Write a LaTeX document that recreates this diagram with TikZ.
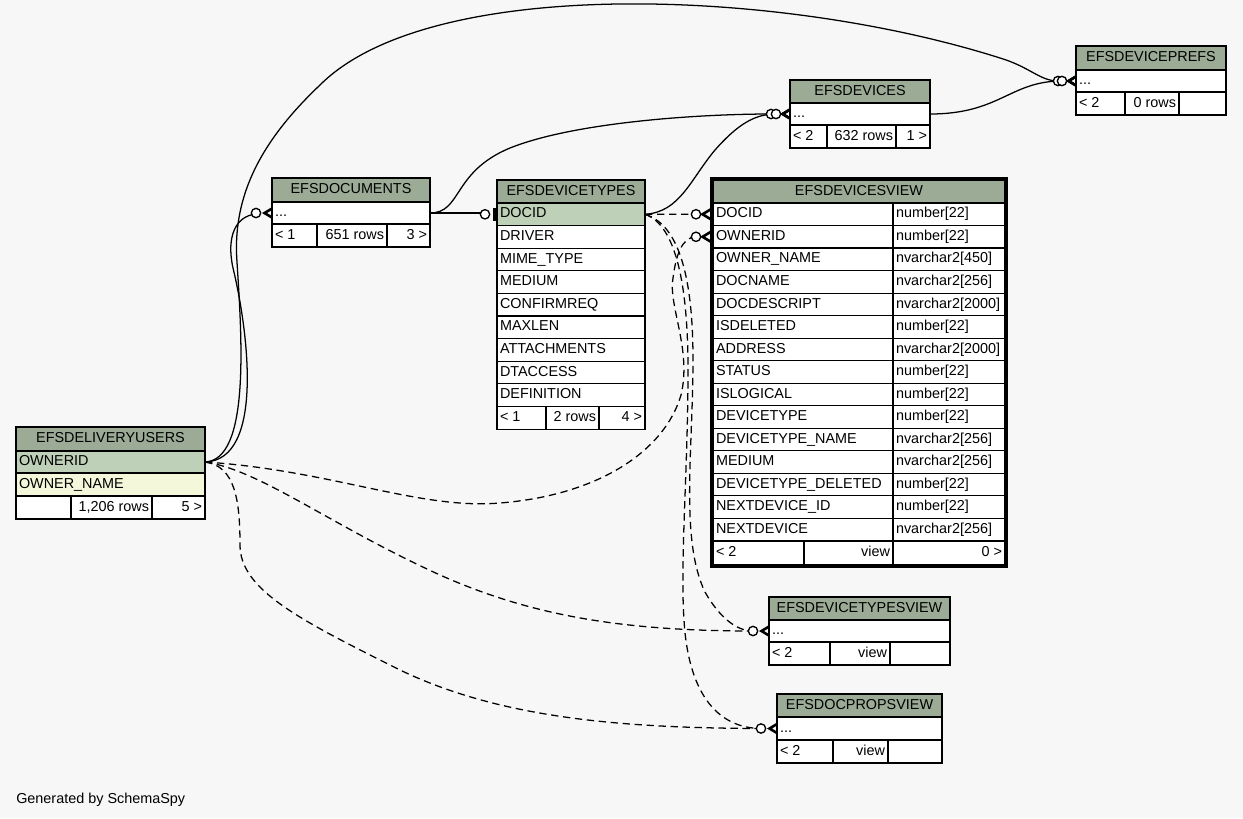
\documentclass[tikz,border=0pt]{standalone}
\usepackage{fontspec}
\setmainfont{Liberation Sans}
\usetikzlibrary{calc}
\definecolor{bgc}{HTML}{F7F7F7}
\definecolor{hdr}{HTML}{9BAB96}
\definecolor{keyc}{HTML}{BED1B8}
\definecolor{idxc}{HTML}{F4F7DA}
\newcommand\tcell[8]{%
  \pgfmathsetlengthmacro\tcw{(#4-6)*0.75pt}%
  \pgfmathsetlengthmacro\tcmw{#4*0.75pt}%
  \pgfmathsetlengthmacro\tcmh{#5*0.75pt}%
  \node[cellbox,fill=#6,minimum width=\tcmw,minimum height=\tcmh] (#1) at (#2,#3) {\makebox[\tcw][#7]{#8}};%
}
\newcommand\crowodot[2]{%
  \begin{scope}[shift={(#1)}]
    \fill (0,-6) -- (-10,0) -- (0,6) -- (0,3) -- (-5,0) -- (0,-3) -- cycle;
    \draw[line width=1pt,fill=white] (-#2,0) circle[radius=3.5pt];
  \end{scope}}
\newcommand\teeodot[2]{%
  \begin{scope}[shift={(#1)}]
    \fill (-4.5,-6.5) rectangle (-1.5,6.5);
    \draw[line width=1pt,fill=white] (-#2,0) circle[radius=3.5pt];
  \end{scope}}
\begin{document}
\begin{tikzpicture}[x=0.75pt,y=-0.75pt,font=\fontsize{10.8}{13}\selectfont,
  cellbox/.style={draw=black,line width=0.9pt,anchor=north west,inner xsep=2.25pt,inner ysep=0pt,
    text height=7.8pt,text depth=2.3pt,outer sep=0pt},
  edgeline/.style={line width=0.95pt},
  dashedge/.style={edgeline,dash pattern=on 5.5pt off 3.5pt}]
\fill[bgc] (0,0) rectangle (1243,818);
\useasboundingbox (0,0) rectangle (1243,818);

% EFSDEVICEPREFS
\tcell{pf-h}{1076}{46}{150}{24}{hdr}{c}{EFSDEVICEPREFS}
\tcell{pf-r}{1076}{70}{150}{22}{white}{l}{...}
\tcell{pf-f1}{1076}{92}{49}{23}{white}{l}{< 2}
\tcell{pf-f2}{1125}{92}{54}{23}{white}{r}{0 rows}
\tcell{pf-f3}{1179}{92}{47}{23}{white}{r}{}

% EFSDEVICES
\tcell{dv-h}{790}{80}{140}{23}{hdr}{c}{EFSDEVICES}
\tcell{dv-r}{790}{103}{140}{22}{white}{l}{...}
\tcell{dv-f1}{790}{125}{37}{23}{white}{l}{< 2}
\tcell{dv-f2}{827}{125}{69}{23}{white}{r}{632 rows}
\tcell{dv-f3}{896}{125}{34}{23}{white}{r}{1 >}

% EFSDOCUMENTS
\tcell{dc-h}{272}{178}{158}{24}{hdr}{c}{EFSDOCUMENTS}
\tcell{dc-r}{272}{202}{158}{22}{white}{l}{...}
\tcell{dc-f1}{272}{224}{45}{23}{white}{l}{< 1}
\tcell{dc-f2}{317}{224}{70}{23}{white}{r}{651 rows}
\tcell{dc-f3}{387}{224}{43}{23}{white}{r}{3 >}

% EFSDEVICETYPES
\tcell{dt-h}{497}{180}{148}{23}{hdr}{c}{EFSDEVICETYPES}
\foreach \nm [count=\i from 0] in {DOCID,DRIVER,MIME\_TYPE,MEDIUM,CONFIRMREQ,MAXLEN,ATTACHMENTS,DTACCESS,DEFINITION}{
  \pgfmathsetmacro\yy{203+22.6*\i}
  \ifnum\i=0 \def\ff{keyc}\else\def\ff{white}\fi
  \tcell{dt-\i}{497}{\yy}{148}{22.6}{\ff}{l}{\nm}
}
\tcell{dt-f1}{497}{406.4}{49}{23}{white}{l}{< 1}
\tcell{dt-f2}{546}{406.4}{53}{23}{white}{r}{2 rows}
\tcell{dt-f3}{599}{406.4}{46}{23}{white}{r}{4 >}

% EFSDEVICESVIEW
\tcell{vw-h}{713}{180}{292}{23}{hdr}{c}{EFSDEVICESVIEW}
\foreach \nm/\ty [count=\i from 0] in {DOCID/number[22],OWNERID/number[22],OWNER\_NAME/nvarchar2[450],DOCNAME/nvarchar2[256],DOCDESCRIPT/nvarchar2[2000],ISDELETED/number[22],ADDRESS/nvarchar2[2000],STATUS/number[22],ISLOGICAL/number[22],DEVICETYPE/number[22],DEVICETYPE\_NAME/nvarchar2[256],MEDIUM/nvarchar2[256],DEVICETYPE\_DELETED/number[22],NEXTDEVICE\_ID/number[22],NEXTDEVICE/nvarchar2[256]}{
  \pgfmathsetmacro\yy{203+22.53*\i}
  \tcell{vw-\i}{713}{\yy}{180}{22.53}{white}{l}{\nm}
  \tcell{vt-\i}{893}{\yy}{112}{22.53}{white}{l}{\ty}
}
\tcell{vw-f1}{713}{541}{91}{24}{white}{l}{< 2}
\tcell{vw-f2}{804}{541}{89}{24}{white}{r}{view}
\tcell{vw-f3}{893}{541}{112}{24}{white}{r}{0 >}
\draw[line width=2.25pt] (711.5,178.5) rectangle (1006.5,566.5);

% EFSDELIVERYUSERS
\tcell{du-h}{16}{427}{189}{24}{hdr}{c}{EFSDELIVERYUSERS}
\tcell{du-1}{16}{451}{189}{22}{keyc}{l}{OWNERID}
\tcell{du-2}{16}{473}{189}{23}{idxc}{l}{OWNER\_NAME}
\tcell{du-f1}{16}{496}{55}{23}{white}{l}{}
\tcell{du-f2}{71}{496}{81}{23}{white}{r}{1,206 rows}
\tcell{du-f3}{152}{496}{53}{23}{white}{r}{5 >}

% EFSDEVICETYPESVIEW
\tcell{tv-h}{769}{597}{181}{23}{hdr}{c}{EFSDEVICETYPESVIEW}
\tcell{tv-r}{769}{620}{181}{22}{white}{l}{...}
\tcell{tv-f1}{769}{642}{61}{23}{white}{l}{< 2}
\tcell{tv-f2}{830}{642}{60}{23}{white}{r}{view}
\tcell{tv-f3}{890}{642}{60}{23}{white}{r}{}

% EFSDOCPROPSVIEW
\tcell{pv-h}{777}{694}{165}{23}{hdr}{c}{EFSDOCPROPSVIEW}
\tcell{pv-r}{777}{717}{165}{23}{white}{l}{...}
\tcell{pv-f1}{777}{740}{56}{23}{white}{l}{< 2}
\tcell{pv-f2}{833}{740}{55}{23}{white}{r}{view}
\tcell{pv-f3}{888}{740}{54}{23}{white}{r}{}

\node[anchor=base west,inner sep=0pt] (gen) at (16,803) {Generated by SchemaSpy};

% connector end points
\coordinate (dc-in) at ($(dc-r.west)+(-16,1)$);
\coordinate (dt-in) at ($(dt-0.west)+(-12,0)$);
\coordinate (dv-in1) at ($(dv-r.west)+(-19,0)$);
\coordinate (dv-in2) at ($(dv-r.west)+(-14,0)$);
\coordinate (pf-in1) at ($(pf-r.west)+(-18,0)$);
\coordinate (pf-in2) at ($(pf-r.west)+(-14,0)$);
\coordinate (vw-p0) at ($(vw-0.west)+(-3,0)$);
\coordinate (vw-p1) at ($(vw-1.west)+(-3,0)$);
\coordinate (vw-in0) at ($(vw-p0)+(-14,0)$);
\coordinate (vw-in1) at ($(vw-p1)+(-14,0)$);
\coordinate (tv-in) at ($(tv-r.west)+(-16,0)$);
\coordinate (pv-in) at ($(pv-r.west)+(-16,0)$);

% solid connectors
\draw[edgeline] (du-1.east) .. controls (265,460) and (248,330) .. (233,268) .. controls (226,236) and (236,216) .. (dc-in);
\draw[edgeline] (du-1.east) .. controls (250,460) and (242,340) .. (237,262) .. controls (232,195) and (262,140) .. (320,85) .. controls (430,-25) and (780,-12) .. (1000,58) .. controls (1030,67) and (1040,81) .. (pf-in1);
\draw[edgeline] (dv-r.east) .. controls (1000,114) and (1010,81) .. (pf-in2);
\draw[edgeline] (dc-r.east) .. controls (462,213) and (452,172) .. (510,148) .. controls (575,122) and (700,114) .. (dv-in1);
\draw[edgeline] (dt-0.east) .. controls (680,212) and (690,180) .. (715,150) .. controls (738,124) and (755,114) .. (dv-in2);
\draw[edgeline] (dc-r.east) -- (dc-r.east -| dt-in);

% dashed connectors
\draw[dashedge] (dt-0.east) -- (vw-in0);
\draw[dashedge] (du-1.east) .. controls (330,470) and (420,510) .. (500,503) .. controls (600,495) and (665,450) .. (681,395) .. controls (692,350) and (668,305) .. (673,278) .. controls (676,255) and (682,237) .. (vw-in1);
\draw[dashedge] (dt-0.east) .. controls (680,225) and (693,280) .. (693,360) .. controls (693,450) and (680,540) .. (705,592) .. controls (718,615) and (735,631) .. (tv-in);
\draw[dashedge] (dt-0.east) .. controls (676,225) and (688,285) .. (688,370) .. controls (688,470) and (680,560) .. (684,620) .. controls (688,690) and (715,728) .. (pv-in);
\draw[dashedge] (du-1.east) .. controls (260,470) and (330,525) .. (440,575) .. controls (530,615) and (620,631) .. (tv-in);
\draw[dashedge] (du-1.east) .. controls (235,466) and (240,500) .. (240,545) .. controls (240,590) and (300,620) .. (400,670) .. controls (500,718) and (620,728) .. (pv-in);

% end markers
\crowodot{dc-r.west}{16}
\teeodot{dt-0.west}{12}
\crowodot{dv-r.west}{19}
\crowodot{dv-r.west}{14}
\crowodot{pf-r.west}{18}
\crowodot{pf-r.west}{14}
\crowodot{vw-p0}{14}
\crowodot{vw-p1}{14}
\crowodot{tv-r.west}{16}
\crowodot{pv-r.west}{16}
\end{tikzpicture}
\end{document}
